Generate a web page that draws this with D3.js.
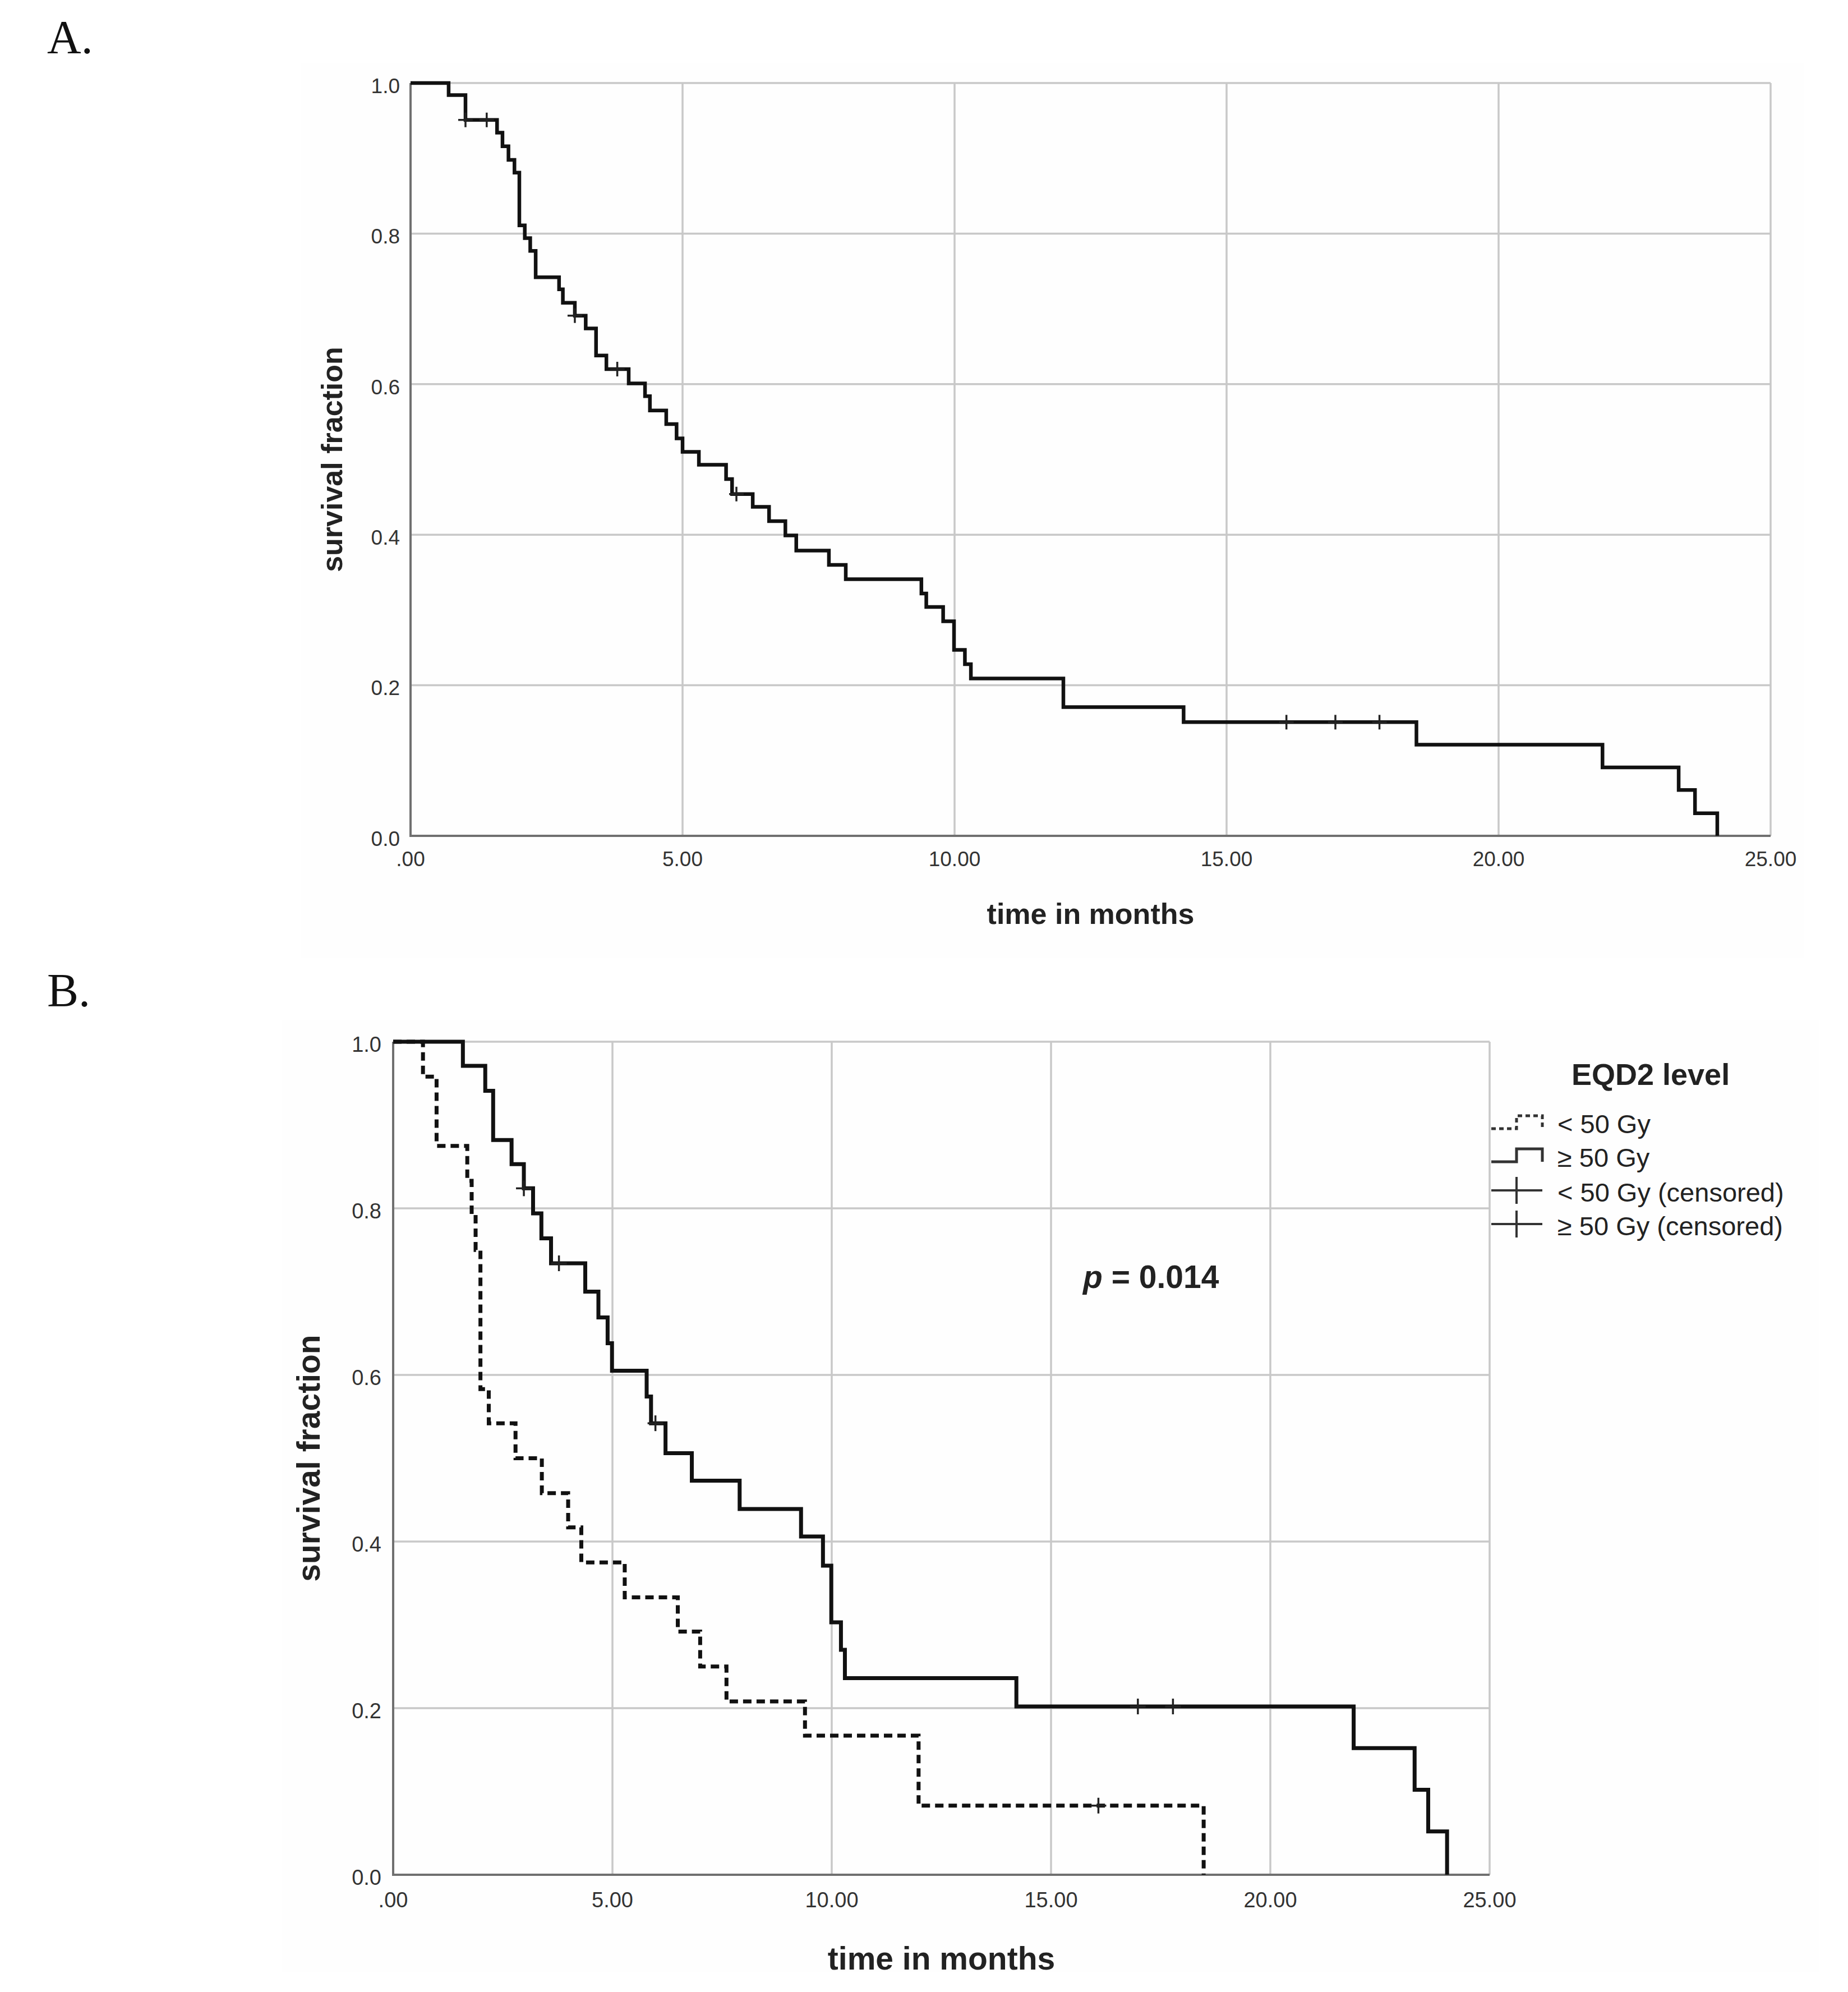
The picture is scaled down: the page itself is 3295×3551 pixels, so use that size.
<!DOCTYPE html>
<html>
<head>
<meta charset="utf-8">
<script src="https://cdn.jsdelivr.net/npm/d3@7/dist/d3.min.js"></script>
<style>
    body { margin: 0; background: #ffffff; }
    svg  { display: block; }
    text { font-family: "Liberation Sans", Arial, sans-serif; fill: #222; }
</style>
</head>
<body>
<svg id="chart" width="3295" height="3551"></svg>
<script>
// Axis ticks shared by both panels
const timeTicks     = [0, 5, 10, 15, 20, 25];
const survivalTicks = [0, 0.2, 0.4, 0.6, 0.8, 1.0];

// Panel A: all patients (step time in months, survival after the step)
const allTimes    = [0, 0.70, 1.01, 1.59, 1.69, 1.80, 1.91, 2.00, 2.10, 2.20, 2.30, 2.73, 2.80, 3.02, 3.22,
                     3.41, 3.60, 4.01, 4.31, 4.40, 4.70, 4.89, 5.00, 5.30, 5.80, 5.91, 6.29, 6.59, 6.89,
                     7.09, 7.69, 8.00, 9.39, 9.48, 9.79, 9.99, 10.19, 10.30, 12.00, 14.21, 18.49, 21.91,
                     23.31, 23.61, 24.02];
const allSurvival = [1.0, 0.984, 0.951, 0.934, 0.916, 0.898, 0.881, 0.811, 0.794, 0.777, 0.742, 0.726, 0.708,
                     0.691, 0.674, 0.638, 0.620, 0.601, 0.584, 0.565, 0.547, 0.528, 0.510, 0.493, 0.474,
                     0.454, 0.437, 0.418, 0.399, 0.379, 0.360, 0.341, 0.322, 0.304, 0.285, 0.247, 0.228,
                     0.209, 0.171, 0.151, 0.121, 0.091, 0.061, 0.030, 0.0];
const allCensored = [1.01, 1.40, 3.02, 3.80, 5.99, 16.10, 17.00, 17.81];

// Panel B: EQD2 < 50 Gy
const lowTimes    = [0, 0.68, 0.99, 1.69, 1.79, 1.88, 1.99, 2.18, 2.79, 3.39, 3.99, 4.29, 5.28, 6.49, 7.00,
                     7.60, 9.39, 11.98, 18.48];
const lowSurvival = [1.0, 0.958, 0.875, 0.833, 0.792, 0.750, 0.583, 0.542, 0.500, 0.458, 0.417, 0.375,
                     0.333, 0.292, 0.250, 0.208, 0.167, 0.083, 0.0];
const lowCensored = [16.08];

// Panel B: EQD2 >= 50 Gy
const highTimes    = [0, 1.59, 2.10, 2.28, 2.70, 2.98, 3.19, 3.38, 3.60, 4.38, 4.68, 4.89, 4.99, 5.78, 5.88,
                      6.21, 6.81, 7.90, 9.30, 9.80, 9.99, 10.21, 10.30, 14.21, 21.90, 23.29, 23.60, 24.03];
const highSurvival = [1.0, 0.971, 0.941, 0.882, 0.853, 0.824, 0.794, 0.764, 0.734, 0.700, 0.669, 0.638,
                      0.605, 0.574, 0.542, 0.506, 0.473, 0.439, 0.406, 0.371, 0.303, 0.270, 0.236, 0.202,
                      0.152, 0.102, 0.052, 0.0];
const highCensored = [2.98, 3.78, 5.98, 16.98, 17.78];

const legendTitle  = "EQD2 level";
const legendLabels = ["< 50 Gy", "\u2265 50 Gy", "< 50 Gy (censored)", "\u2265 50 Gy (censored)"];
const pValueLabel  = "0.014";

const svg = d3.select("#chart");

/**
 * One Kaplan-Meier panel (grid, axes, titles, curves).
 */
class SurvivalPanel
{
    /**
     * @param {Object} layout Pixel box and font sizes of the panel
     */
    constructor(layout)
    {
        this.layout = layout;
        this.x = d3.scaleLinear().domain([0, 25]).range([layout.left, layout.right]);
        this.y = d3.scaleLinear().domain([0, 1]).range([layout.bottom, layout.top]);
        this.g = svg.append("g").attr("class", "panel");
    }

    drawFrame()
    {
        let l = this.layout;
        let x = this.x, y = this.y;

        this.g.append("rect")
            .attr("x", l.bgLeft).attr("y", l.bgTop)
            .attr("width", l.bgRight - l.bgLeft).attr("height", l.bgBottom - l.bgTop)
            .attr("fill", "#fefefe");

        // grid lines (light), the top and right edges are grid lines too
        this.g.selectAll("line.hgrid")
            .data(survivalTicks.filter(d => d > 0))
            .enter().append("line")
            .attr("x1", x(0)).attr("x2", x(25))
            .attr("y1", d => y(d)).attr("y2", d => y(d))
            .attr("stroke", "#c8c8c8").attr("stroke-width", 3.5);

        this.g.selectAll("line.vgrid")
            .data(timeTicks.filter(d => d > 0))
            .enter().append("line")
            .attr("y1", y(0)).attr("y2", y(1))
            .attr("x1", d => x(d)).attr("x2", d => x(d))
            .attr("stroke", "#c8c8c8").attr("stroke-width", 3.5);

        // left and bottom axis lines
        this.g.append("path")
            .attr("d", `M${x(0)},${y(1)}V${y(0)}H${x(25)}`)
            .attr("fill", "none")
            .attr("stroke", "#707070").attr("stroke-width", 4);

        this.g.selectAll("text.ytick")
            .data(survivalTicks)
            .enter().append("text")
            .attr("x", x(0) - l.yTickGap)
            .attr("y", d => y(d) + l.tickFont * 0.48)
            .attr("text-anchor", "end")
            .style("font-size", l.tickFont + "px")
            .style("fill", "#333")
            .text(d3.format(".1f"));

        this.g.selectAll("text.xtick")
            .data(timeTicks)
            .enter().append("text")
            .attr("x", d => x(d))
            .attr("y", y(0) + l.xTickGap)
            .attr("text-anchor", "middle")
            .style("font-size", l.tickFont + "px")
            .style("fill", "#333")
            .text(d => d === 0 ? ".00" : d3.format(".2f")(d));

        this.g.append("text")
            .attr("transform", `translate(${l.yTitleX},${(y(0) + y(1)) / 2}) rotate(-90)`)
            .attr("text-anchor", "middle")
            .attr("dominant-baseline", "central")
            .style("font-size", l.titleFont + "px")
            .style("font-weight", "bold")
            .text("survival fraction");

        this.g.append("text")
            .attr("x", (x(0) + x(25)) / 2)
            .attr("y", l.xTitleY)
            .attr("text-anchor", "middle")
            .style("font-size", l.titleFont + "px")
            .style("font-weight", "bold")
            .text("time in months");
    }

    /**
     * Step curve plus the censor crosses.
     */
    drawCurve(times, survival, censored, dash)
    {
        let x = this.x, y = this.y;
        let points = times.map((t, i) => [t, survival[i]]);

        let line = d3.line()
            .x(d => x(d[0]))
            .y(d => y(d[1]))
            .curve(d3.curveStepAfter);

        this.g.append("path")
            .datum(points)
            .attr("d", line)
            .attr("fill", "none")
            .attr("stroke", "#111")
            .attr("stroke-width", this.layout.curveWidth)
            .attr("stroke-dasharray", dash ? dash : null);

        // survival value at a censor time, read from the step data
        let valueAt = t => survival[d3.bisectRight(times, t) - 1];
        let h = this.layout.censorSize;

        let marks = this.g.selectAll(null)
            .data(censored)
            .enter().append("g")
            .attr("transform", t => `translate(${x(t)},${y(valueAt(t))})`);

        marks.append("line")
            .attr("x1", -h).attr("x2", h)
            .attr("stroke", "#222").attr("stroke-width", 3.5);
        marks.append("line")
            .attr("y1", -h).attr("y2", h)
            .attr("stroke", "#222").attr("stroke-width", 3.5);
    }
}

// Panel A
let panelA = new SurvivalPanel({
    left: 732, right: 3157, top: 148, bottom: 1490,
    bgLeft: 537, bgRight: 3216, bgTop: 112, bgBottom: 1707,
    tickFont: 37, titleFont: 52, yTickGap: 19, xTickGap: 54,
    yTitleX: 592, xTitleY: 1647, curveWidth: 6.5, censorSize: 13
});
panelA.drawFrame();
panelA.drawCurve(allTimes, allSurvival, allCensored, null);

// Panel B
let panelB = new SurvivalPanel({
    left: 701, right: 2656, top: 1857, bottom: 3342,
    bgLeft: 503, bgRight: 3243, bgTop: 1819, bgBottom: 3515,
    tickFont: 38, titleFont: 57, yTickGap: 21, xTickGap: 58,
    yTitleX: 550, xTitleY: 3511, curveWidth: 7, censorSize: 14
});
panelB.drawFrame();
panelB.drawCurve(lowTimes, lowSurvival, lowCensored, "15,9");
panelB.drawCurve(highTimes, highSurvival, highCensored, null);

// p value
let pText = svg.append("text")
    .attr("x", 1931).attr("y", 2296)
    .style("font-size", "57px")
    .style("font-weight", "bold");
pText.append("tspan").style("font-style", "italic").text("p");
pText.append("tspan").text(" = " + pValueLabel);

// Legend
let legend = svg.append("g").attr("class", "legend");

legend.append("text")
    .attr("x", 2802).attr("y", 1934)
    .style("font-size", "54px")
    .style("font-weight", "bold")
    .text(legendTitle);

let rowY = [2020, 2080, 2142, 2202];

legendLabels.forEach((label, i) => {
    legend.append("text")
        .attr("x", 2777).attr("y", rowY[i])
        .style("font-size", "47px")
        .text(label);
});

// curve symbols: a small step shape, dashed for < 50 Gy
let symbolPath = (yb) => `M2659,${yb}H2704V${yb - 23}H2750V${yb}`;

legend.append("path")
    .attr("d", symbolPath(rowY[0] - 8))
    .attr("fill", "none").attr("stroke", "#333").attr("stroke-width", 5)
    .attr("stroke-dasharray", "8,6");
legend.append("path")
    .attr("d", symbolPath(rowY[1] - 9))
    .attr("fill", "none").attr("stroke", "#333").attr("stroke-width", 5);

[rowY[2] - 20, rowY[3] - 20].forEach(cy => {
    legend.append("line")
        .attr("x1", 2659).attr("x2", 2750).attr("y1", cy).attr("y2", cy)
        .attr("stroke", "#333").attr("stroke-width", 4);
    legend.append("line")
        .attr("x1", 2704).attr("x2", 2704).attr("y1", cy - 24).attr("y2", cy + 24)
        .attr("stroke", "#333").attr("stroke-width", 4);
});

// panel letters
svg.selectAll("text.panel-letter")
    .data([["A.", 95], ["B.", 1794]])
    .enter().append("text")
    .attr("x", 84)
    .attr("y", d => d[1])
    .style("font-family", "'Liberation Serif', 'DejaVu Serif', serif")
    .style("font-size", "84px")
    .style("fill", "#111")
    .text(d => d[0]);
</script>
</body>
</html>
